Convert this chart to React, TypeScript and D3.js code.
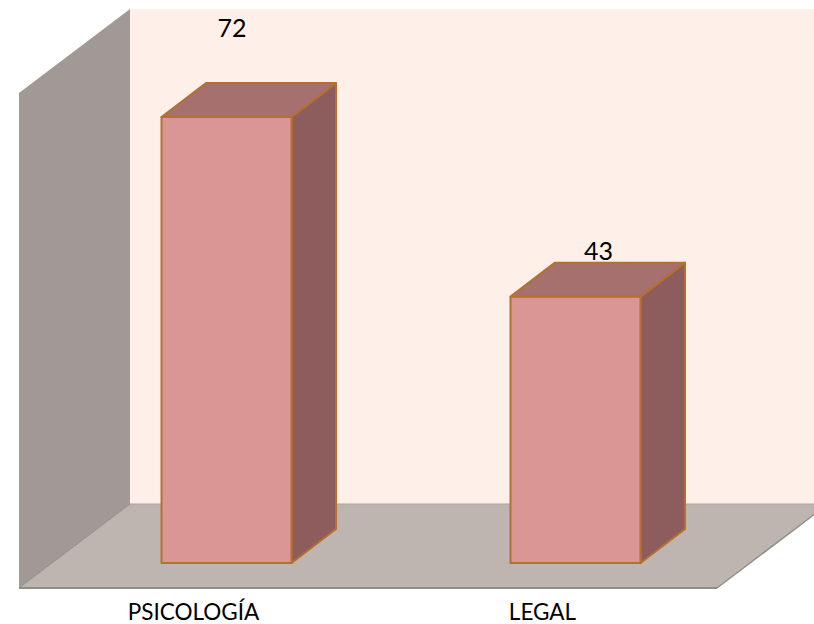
import * as d3 from "d3";

const categories = ["PSICOLOGÍA", "LEGAL"];
const values = [72, 43];

const width = 814;
const height = 624;

// chart box corners
const floorLeft = 19;
const floorRight = 717;
const floorY = 588;
const wallX = 130;
const wallTop = 9;
const wallBottom = 504;
const wallRight = 828;
const sideTop = 93;

// bar box
const barBase = 563;
const barTop72 = 117;
const barW = 130;
const barOffset = 142.5;
const depthX = 44.5;
const depthY = 34;

const x = d3.scaleBand<string>().domain(categories).range([floorLeft, floorRight]);
const y = d3.scaleLinear().domain([0, 72]).range([barBase, barTop72]);

const poly = (pts: [number, number][]) => d3.line()(pts) + "Z";

const BAR_STROKE = "#b5702f";
const FONT = "Lato, Carlito, sans-serif";

export default function App() {
  return (
    <svg
      width={width}
      height={height}
      style={{ position: "absolute", left: 0, top: 0, background: "#fff" }}
    >
      {/* back wall */}
      <rect x={wallX} y={wallTop} width={width - wallX} height={wallBottom - wallTop} fill="#feefe8" />
      {/* side wall */}
      <path
        d={poly([[floorLeft, sideTop], [wallX, wallTop], [wallX, wallBottom], [floorLeft, floorY]])}
        fill="#a19995"
      />
      {/* floor */}
      <path
        d={poly([[floorLeft, floorY], [wallX, wallBottom], [wallRight, wallBottom], [floorRight, floorY]])}
        fill="#beb5b0"
      />
      <path d={d3.line()([[wallX, wallBottom], [wallRight, wallBottom]])!} stroke="#a8a3a0" strokeWidth={1} fill="none" />
      <path d={d3.line()([[floorLeft, floorY], [wallX, wallBottom]])!} stroke="#8e8e8c" strokeWidth={1} fill="none" />
      <path d={d3.line()([[floorRight, floorY], [wallRight, wallBottom]])!} stroke="#8e8e8c" strokeWidth={1.5} fill="none" />
      <path d={d3.line()([[floorLeft, floorY], [floorRight, floorY]])!} stroke="#8e8e8c" strokeWidth={2} fill="none" />

      {categories.map((c, i) => {
        const x0 = x(c)! + barOffset;
        const x1 = x0 + barW;
        const top = y(values[i]);
        return (
          <g key={c} stroke={BAR_STROKE} strokeWidth={2} strokeLinejoin="round">
            <path
              d={poly([[x1, top], [x1 + depthX, top - depthY], [x1 + depthX, barBase - depthY], [x1, barBase]])}
              fill="#8c5d5c"
            />
            <path
              d={poly([[x0, top], [x0 + depthX, top - depthY], [x1 + depthX, top - depthY], [x1, top]])}
              fill="#a5706d"
            />
            <rect x={x0} y={top} width={barW} height={barBase - top} fill="#d99694" />
          </g>
        );
      })}

      {categories.map((c, i) => (
        <text
          key={c + "-v"}
          x={x(c)! + barOffset + (i === 0 ? 70.5 : 88)}
          y={y(values[i]) - (i === 0 ? 80 : 37)}
          textAnchor="middle"
          fontFamily={FONT}
          fontSize={25}
          fill="#000"
        >
          {values[i]}
        </text>
      ))}

      {categories.map((c) => (
        <text
          key={c + "-l"}
          x={x(c)! + x.bandwidth() / 2}
          y={620}
          textAnchor="middle"
          fontFamily={FONT}
          fontSize={22.5}
          fill="#000"
        >
          {c}
        </text>
      ))}
    </svg>
  );
}
